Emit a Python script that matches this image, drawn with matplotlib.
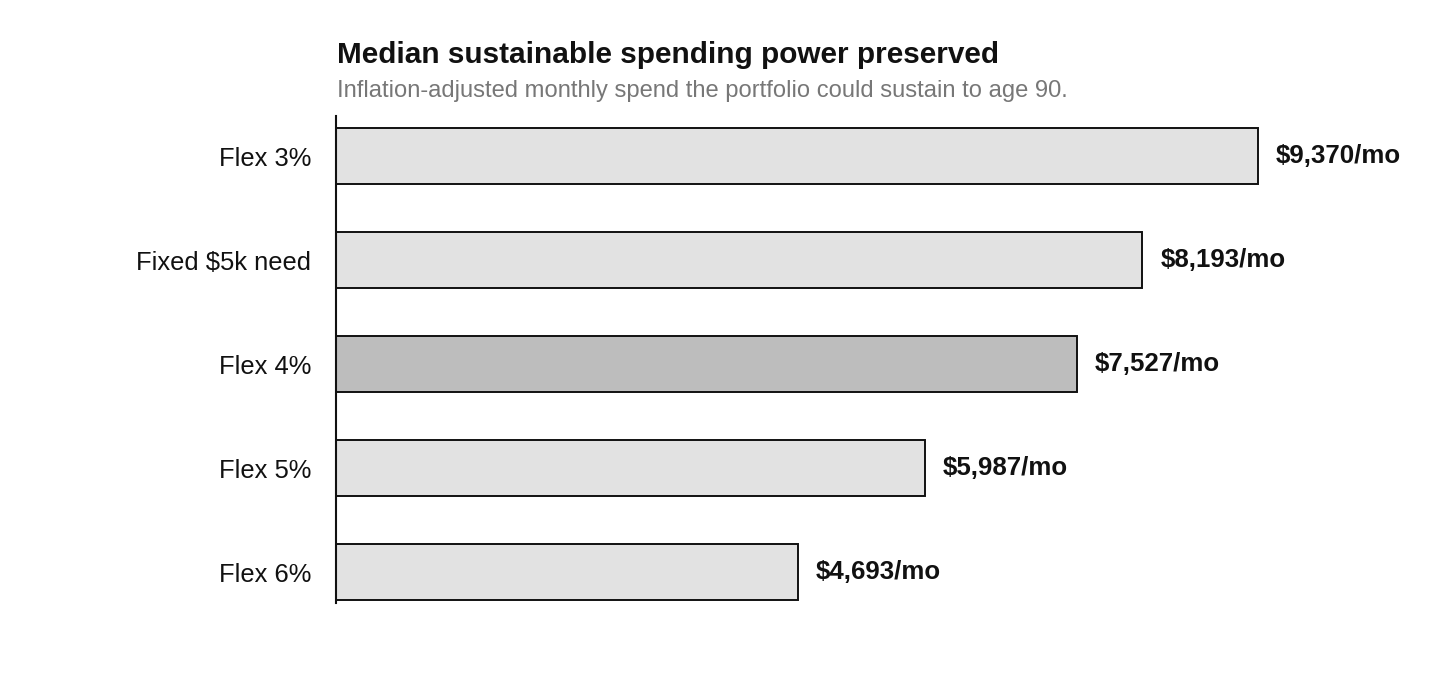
import matplotlib
matplotlib.use("Agg")
import matplotlib.pyplot as plt

categories = ["Flex 3%", "Fixed $5k need", "Flex 4%", "Flex 5%", "Flex 6%"]
values = [9370, 8193, 7527, 5987, 4693]
highlight = "Flex 4%"

plt.rcParams['font.family'] = ['Liberation Sans', 'DejaVu Sans']

W, H = 1440, 684
fig = plt.figure(figsize=(W / 100, H / 100), dpi=100)

ax_left, ax_top, ax_bottom = 336, 116, 603
ax_right = 1320
ax = fig.add_axes([ax_left / W, 1 - ax_bottom / H, (ax_right - ax_left) / W, (ax_bottom - ax_top) / H])

colors = ['#bdbdbd' if c == highlight else '#e2e2e2' for c in categories]
ypos = list(range(len(categories)))
ax.barh(ypos, values, height=0.54, color=colors, edgecolor='#111111', linewidth=1.4)
ax.set_ylim(4.298, -0.385)
ax.set_xlim(0, 10000)

for y, v in zip(ypos, values):
    ax.annotate(f"${v:,}/mo", xy=(v, y), xytext=(18, 0), textcoords='offset pixels',
                ha='left', va='center', fontsize=18.6, fontweight='bold', color='#111111')

ax.set_yticks(ypos)
ax.set_yticklabels(categories, fontsize=18.4, color='#111111')
ax.tick_params(axis='y', length=0, pad=18)
ax.set_xticks([])
for s in ['top', 'right', 'bottom']:
    ax.spines[s].set_visible(False)
ax.spines['left'].set_linewidth(1.5)
ax.spines['left'].set_color('#111111')

fig.text(337 / W, 1 - 63 / H, "Median sustainable spending power preserved", fontsize=21.4,
         fontweight='bold', color='#111111', ha='left', va='baseline')
fig.text(337 / W, 1 - 97 / H, "Inflation-adjusted monthly spend the portfolio could sustain to age 90.",
         fontsize=17.1, color='#777777', ha='left', va='baseline')

fig.savefig("out.png", dpi=100)
